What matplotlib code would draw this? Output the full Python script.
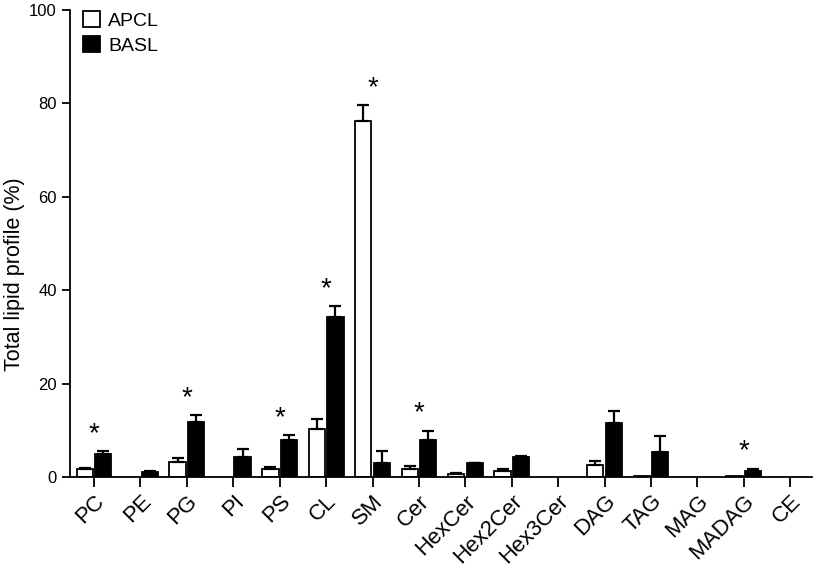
import matplotlib
matplotlib.use("Agg")
import matplotlib.pyplot as plt
import numpy as np
from matplotlib.patches import Patch

plt.rcParams['font.family'] = ['Liberation Sans', 'DejaVu Sans']

categories = ["PC", "PE", "PG", "PI", "PS", "CL", "SM", "Cer", "HexCer", "Hex2Cer",
              "Hex3Cer", "DAG", "TAG", "MAG", "MADAG", "CE"]
apcl = [1.7, 0.0, 3.2, 0.0, 1.8, 10.2, 76.2, 1.8, 0.7, 1.3, 0.0, 2.5, 0.3, 0.0, 0.3, 0.0]
apcl_err = [0.3, 0.0, 0.9, 0.0, 0.4, 2.2, 3.4, 0.6, 0.2, 0.5, 0.0, 0.9, 0.0, 0.0, 0.0, 0.0]
basl = [4.9, 1.1, 11.8, 4.2, 8.0, 34.3, 2.9, 8.0, 2.9, 4.2, 0.0, 11.6, 5.4, 0.0, 1.3, 0.0]
basl_err = [0.6, 0.1, 1.5, 1.9, 0.9, 2.3, 2.7, 1.9, 0.2, 0.4, 0.0, 2.6, 3.3, 0.0, 0.5, 0.0]
significant = ["PC", "PG", "PS", "CL", "SM", "Cer", "MADAG"]
yticks = [0, 20, 40, 60, 80, 100]

fig = plt.figure(figsize=(8.22, 5.75), dpi=100)
ax = fig.add_axes([0.085, 0.1704, 0.903, 0.8122])

x = np.arange(len(categories))
w = 0.35
off = 0.2


def draw(vals, errs, shift, color):
    v = np.array(vals)
    e = np.array(errs)
    m = v > 0
    ax.bar(x[m] + shift, v[m], w, color=color, edgecolor='black', linewidth=1.3, zorder=2)
    me = m & (e > 0)
    ax.errorbar(x[me] + shift, v[me], yerr=[np.zeros(me.sum()), e[me]], fmt='none',
                ecolor='black', elinewidth=1.6, capsize=4.5, capthick=1.6, zorder=3)


draw(apcl, apcl_err, -off, 'white')
draw(basl, basl_err, off, 'black')

for i, c in enumerate(categories):
    if c in significant:
        top = max(apcl[i] + apcl_err[i], basl[i] + basl_err[i])
        ax.annotate('*', (x[i], top), xytext=(0, 3), textcoords='offset points',
                    ha='center', va='bottom', fontsize=20)

ax.set_xlim(-0.52, 15.47)
ax.set_ylim(0, 100)
ax.set_yticks(yticks)
ax.set_yticklabels([str(t) for t in yticks], fontsize=12)
ax.set_xticks(x)
ax.set_xticklabels(categories, rotation=45, ha='right', rotation_mode='anchor', fontsize=16)
ax.tick_params(axis='x', direction='out', length=7, width=1.3, pad=3)
ax.tick_params(axis='y', direction='out', length=6, width=1.3)
ax.set_ylabel('Total lipid profile (%)', fontsize=15.5)
ax.yaxis.set_label_coords(-0.060, 0.435)
for s in ['top', 'right']:
    ax.spines[s].set_visible(False)
for s in ['left', 'bottom']:
    ax.spines[s].set_linewidth(1.3)

handles = [Patch(facecolor='white', edgecolor='black', linewidth=1.3, label='APCL'),
           Patch(facecolor='black', edgecolor='black', linewidth=1.3, label='BASL')]
ax.legend(handles=handles, loc='upper left', bbox_to_anchor=(-0.006, 1.035), frameon=False,
          fontsize=14, handlelength=0.9, handleheight=0.9, handletextpad=0.4, labelspacing=0.3)

fig.savefig('out.png', dpi=100)
